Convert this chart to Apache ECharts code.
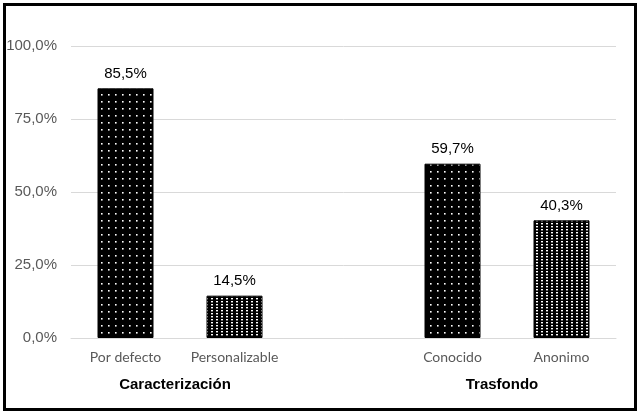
<!DOCTYPE html>
<html>
<head>
<meta charset="utf-8">
<script src="https://cdn.jsdelivr.net/npm/echarts@6/dist/echarts.min.js"></script>
<style>
  html, body { margin: 0; padding: 0; background: #fff; }
  #wrap { position: relative; width: 640px; height: 414px; }
  #c { position: absolute; left: 0; top: 0; width: 640px; height: 414px; }
  #frame { position: absolute; left: 3px; top: 3px; width: 628px; height: 402px; border: 3px solid #000; pointer-events: none; }
</style>
</head>
<body>
<div id="wrap"><div id="c"></div><div id="frame"></div></div>
<script>
// ---- data ----
const categories = ['Por defecto', 'Personalizable', '', 'Conocido', 'Anonimo'];
const values = [85.5, 14.5, null, 59.7, 40.3];
const patternKind = ['sparse', 'dense', null, 'sparse', 'dense'];
const groupNames = ['Caracterización', 'Trasfondo'];
const groupMembers = [[0, 1], [3, 4]];
const yTicks = [0, 25, 50, 75, 100];

// ---- patterns ----
function makePattern(kind) {
  const c = document.createElement('canvas');
  const ctx = c.getContext('2d');
  if (kind === 'sparse') {
    c.width = 7; c.height = 7;
    ctx.fillStyle = '#000'; ctx.fillRect(0, 0, 7, 7);
    ctx.fillStyle = '#fff'; ctx.fillRect(3, 3, 1.6, 1.6);
  } else {
    c.width = 5; c.height = 3;
    ctx.fillStyle = '#000'; ctx.fillRect(0, 0, 5, 3);
    ctx.fillStyle = '#fff'; ctx.fillRect(1, 1, 2, 1.4);
  }
  return { image: c, repeat: 'repeat' };
}
const patterns = { sparse: makePattern('sparse'), dense: makePattern('dense') };

const fmt = v => v.toFixed(1).replace('.', ',') + '%';

// group label centres in slot units (axis with one unit per category)
const groupCentres = groupMembers.map(m => (m[0] + m[m.length - 1]) / 2 + 0.5);

const chart = echarts.init(document.getElementById('c'), null, { renderer: 'canvas' });
chart.setOption({
  animation: false,
  backgroundColor: '#fff',
  grid: { left: 71, right: 24, top: 46, bottom: 76, containLabel: false },
  xAxis: [
    {
      type: 'category',
      data: categories,
      axisLine: { show: true, lineStyle: { color: '#d9d9d9', width: 1 } },
      axisTick: { show: false },
      axisLabel: { color: '#595959', fontFamily: 'Lato', fontSize: 14, margin: 12, interval: 0 }
    },
    {
      type: 'value',
      position: 'bottom',
      min: 0, max: categories.length, interval: 0.5,
      axisLine: { show: false }, axisTick: { show: false }, splitLine: { show: false },
      axisLabel: {
        color: '#000', fontFamily: 'Liberation Sans, Arial', fontWeight: 'bold', fontSize: 15, margin: 39,
        padding: [0, 10, 0, 0],
        showMinLabel: true, showMaxLabel: true,
        formatter: v => { const i = groupCentres.findIndex(c => Math.abs(c - v) < 1e-6); return i >= 0 ? groupNames[i] : ''; }
      }
    }
  ],
  yAxis: {
    type: 'value',
    min: yTicks[0], max: yTicks[yTicks.length - 1], interval: yTicks[1] - yTicks[0],
    axisLine: { show: false }, axisTick: { show: false },
    splitLine: { lineStyle: { color: '#d9d9d9', width: 1 } },
    axisLabel: { color: '#595959', fontFamily: 'Liberation Sans, Arial', fontSize: 15, margin: 14, formatter: v => fmt(v) }
  },
  series: [{
    type: 'bar',
    xAxisIndex: 0,
    barWidth: 56,
    data: values.map((v, i) => v == null ? null : {
      value: v,
      itemStyle: { color: patterns[patternKind[i]], borderColor: '#000', borderWidth: 1 }
    }),
    label: {
      show: true, position: 'top', distance: 7, color: '#000',
      fontFamily: 'Liberation Sans, Arial', fontSize: 15,
      formatter: p => fmt(p.value)
    }
  }]
});
</script>
</body>
</html>
